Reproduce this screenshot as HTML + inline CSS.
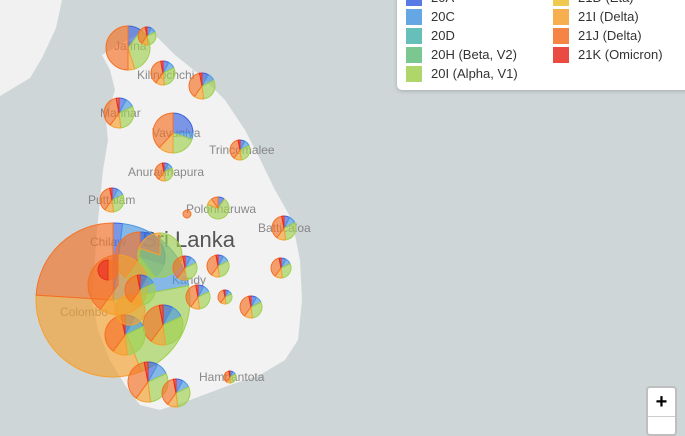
<!DOCTYPE html>
<html><head><meta charset="utf-8"><style>
body{margin:0;width:685px;height:430px;overflow:hidden;background:#cfd6d7;font-family:"Liberation Sans",sans-serif;}
#leg{position:absolute;left:397px;top:-10px;width:300px;height:100px;background:#fff;border-radius:5px;box-shadow:0 1px 4px rgba(0,0,0,.2);}
.it{position:absolute;font-size:13px;color:#333;line-height:16px;}
.it i{position:absolute;left:-25px;top:0;width:16px;height:16px;opacity:.85}
#zm{position:absolute;left:646px;top:386px;width:31px;height:50px;background:#fff;border:2px solid rgba(0,0,0,.25);border-radius:4px;box-sizing:border-box}
#zm div{height:28px;border-bottom:1px solid #ccc;text-align:center;font:bold 20px "Liberation Sans",sans-serif;line-height:28px}
</style></head><body>
<svg id="s" width="685" height="430" style="position:absolute;left:0;top:0">
<polygon points="0,0 62,0 56,28 42,58 30,78 0,96" fill="#f1f1f1"/>
<polygon points="148,28 175,55 200,75 225,100 245,130 258,155 275,190 292,220 300,260 302,300 298,340 285,360 260,375 230,385 190,400 160,410 140,405 125,385 110,360 98,330 92,300 95,260 97,230 100,200 103,170 108,140 106,120 115,90 110,70 102,55" fill="#f2f2f2"/>
<g fill="#777" font-size="12" opacity=".85">
<text x="114" y="50">Jaffna</text><text x="137" y="79">Kilinochchi</text><text x="100" y="117">Mannar</text>
<text x="152" y="137">Vavuniya</text><text x="209" y="154">Trincomalee</text><text x="128" y="176">Anuradhapura</text>
<text x="88" y="204">Puttalam</text><text x="186" y="213">Polonnaruwa</text><text x="258" y="232">Batticaloa</text>
<text x="90" y="246">Chilaw</text><text x="172" y="284">Kandy</text><text x="60" y="316">Colombo</text><text x="199" y="381">Hambantota</text>
</g>
<text x="142" y="247" font-size="22" fill="#555">Sri Lanka</text>
<g id="p"></g>
</svg>
<div id="leg">
<div class="it" style="left:34px;top:0px"><i style="background:#3a63e0"></i>20A</div>
<div class="it" style="left:34px;top:19px"><i style="background:#4a97e0"></i>20C</div>
<div class="it" style="left:34px;top:38px"><i style="background:#4bb5ad"></i>20D</div>
<div class="it" style="left:34px;top:57px"><i style="background:#64bd7e"></i>20H (Beta, V2)</div>
<div class="it" style="left:34px;top:76px"><i style="background:#a0cf50"></i>20I (Alpha, V1)</div>
<div class="it" style="left:181px;top:0px"><i style="background:#f0c030"></i>21D (Eta)</div>
<div class="it" style="left:181px;top:19px"><i style="background:#f5a030"></i>21I (Delta)</div>
<div class="it" style="left:181px;top:38px"><i style="background:#f57025"></i>21J (Delta)</div>
<div class="it" style="left:181px;top:57px"><i style="background:#e82a22"></i>21K (Omicron)</div>
</div>
<div id="zm"><div>+</div></div>
<script>
var C={A:"#3a63e0",C:"#4a97e0",H:"#64bd7e",I:"#a0cf50",D:"#f5a030",J:"#f57025",K:"#e82a22"};
var mix=[["A",.08],["C",.1],["I",.3],["D",.12],["J",.37],["K",.03]];
var P=[[113,300,77,[["A",.02],["C",.2],["I",.22],["D",.32],["J",.24]]],
[128,48,22,[["A",.1],["I",.35],["D",.05],["J",.5]]],[147,36,9,mix],[163,73,12,mix],[202,86,13,mix],[119,113,15,mix],
[173,133,20,[["A",.25],["C",.05],["I",.2],["D",.12],["J",.38]]],[164,172,9,mix],[240,150,10,mix],[112,200,12,mix],[218,208,11,[["A",.1],["I",.7],["D",.1],["J",.1]]],
[187,214,4,[["J",1]]],[284,228,12,mix],[140,257,25,[["A",.3],["C",.1],["I",.2],["J",.4]]],[160,255,22,[["I",.8],["D",.2]]],
[118,285,30,[["D",.6],["J",.4]]],[185,268,12,mix],[218,266,11,mix],[281,268,10,mix],[198,297,12,mix],[225,297,7,mix],[251,307,11,mix],
[163,325,20,mix],[125,335,20,mix],[148,382,20,mix],[176,393,14,mix],[230,377,6,mix],[130,310,15,[["D",1]]],[140,290,15,mix],[108,270,10,[["J",.5],["K",.5]]]];
var h="";
P.forEach(function(p){var a=-Math.PI/2,x=p[0],y=p[1],r=p[2];p[3].forEach(function(s){var b=a+s[1]*2*Math.PI;
if(s[1]>=.999){h+='<circle cx="'+x+'" cy="'+y+'" r="'+r+'" fill="'+C[s[0]]+'" fill-opacity=".65" stroke="'+C[s[0]]+'"/>';}else{
var x1=x+r*Math.cos(a),y1=y+r*Math.sin(a),x2=x+r*Math.cos(b),y2=y+r*Math.sin(b);
h+='<path d="M'+x+','+y+'L'+x1+','+y1+'A'+r+','+r+' 0 '+(s[1]>.5?1:0)+' 1 '+x2+','+y2+'Z" fill="'+C[s[0]]+'" fill-opacity=".65" stroke="'+C[s[0]]+'" stroke-width="1"/>';}a=b;});});
document.getElementById("p").innerHTML=h;
</script>
</body></html>
